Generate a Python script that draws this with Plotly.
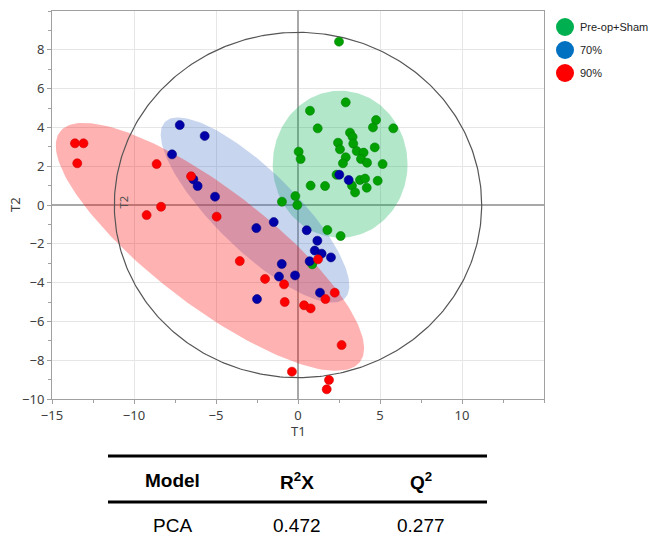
import numpy as np
import plotly.graph_objects as go

# ---------------- data ----------------
green_x = [2.5, 2.91, 0.73, 4.76, 4.57, 5.81, 1.2, 3.17, 3.33, 2.44, 3.37, 2.56, 4.68, 3.58, 4.0,
           0.04, 0.16, 2.91, 3.84, 2.74, 4.21, 5.16, 2.35, 3.78, 4.09, 4.86, 3.29, 4.19, 3.48,
           0.77, 1.65, -0.16, -0.98, -0.04, 1.79, 2.6, 0.87]
green_y = [8.42, 5.29, 4.86, 4.38, 4.0, 3.95, 3.95, 3.73, 3.51, 3.21, 3.16, 2.87, 2.97, 2.78, 2.7,
           2.75, 2.37, 2.46, 2.37, 2.15, 2.18, 2.11, 1.56, 1.29, 1.36, 1.25, 1.0, 0.89, 0.65,
           1.0, 0.98, 0.46, 0.17, 0.0, -1.29, -1.6, -3.06]

blue_x = [-7.21, -5.69, -7.68, -6.38, -6.12, -5.06, -2.54, -1.48, 0.53, 1.18, 1.02, 1.44, 2.01,
          0.71, -0.99, -1.16, -0.18, -2.5, 1.34, 2.52, 3.09]
blue_y = [4.12, 3.56, 2.61, 1.32, 0.98, 0.43, -1.19, -0.88, -1.3, -1.84, -2.35, -2.51, -2.7,
          -2.9, -3.04, -3.69, -3.63, -4.85, -4.52, 1.56, 1.29]

red_x = [-13.6, -13.08, -13.46, -8.62, -6.52, -8.35, -9.23, -4.96, -3.55, -2.01, -0.85, -0.81,
         0.37, 0.77, 1.22, 2.24, 1.67, 2.66, -0.37, 1.89, 1.75]
red_y = [3.18, 3.18, 2.15, 2.11, 1.48, -0.09, -0.52, -0.6, -2.89, -3.81, -4.09, -5.0,
         -5.17, -5.33, -2.8, -4.52, -4.85, -7.22, -8.59, -9.02, -9.5]

group_names = ["Pre-op+Sham", "70%", "90%"]

# confidence ellipses: center, half-axis vector u, half-axis vector v (data units)
green_ell = ((2.57, 2.1), (4.11, 0.0), (0.0, 3.79))
blue_ell = ((-2.62, -0.26), (5.49, -4.54), (1.71, 1.47))
red_ell = ((-5.37, -2.16), (9.15, -5.93), (2.15, 2.38))
t2_ell = ((0.0, 0.0), (11.2, 0.0), (0.0, 8.9))

x_ticks = [-15, -10, -5, 0, 5, 10]
y_ticks = [-10, -8, -6, -4, -2, 0, 2, 4, 6, 8]

table_header = ["Model", "R<sup>2</sup>X", "Q<sup>2</sup>"]
table_row = ["PCA", "0.472", "0.277"]


def ellipse(e, n=200):
    (cx, cy), (ux, uy), (vx, vy) = e
    t = np.linspace(0, 2 * np.pi, n)
    return cx + ux * np.cos(t) + vx * np.sin(t), cy + uy * np.cos(t) + vy * np.sin(t)


fig = go.Figure()

for ell, fc in [(green_ell, "rgba(0,176,80,0.30)"),
                (blue_ell, "rgba(70,115,200,0.30)"),
                (red_ell, "rgba(255,0,0,0.30)")]:
    ex, ey = ellipse(ell)
    fig.add_trace(go.Scatter(x=ex, y=ey, mode="lines", fill="toself", fillcolor=fc,
                             line=dict(width=0), hoverinfo="skip", showlegend=False))

cx_, cy_ = ellipse(t2_ell, 400)
fig.add_trace(go.Scatter(x=cx_, y=cy_, mode="lines", line=dict(color="#555555", width=1.2),
                         hoverinfo="skip", showlegend=False))

for xs, ys, col, lc, nm in [(green_x, green_y, "#00A000", "#008000", group_names[0]),
                            (blue_x, blue_y, "#0000A8", "#000080", group_names[1]),
                            (red_x, red_y, "#FF0000", "#D00000", group_names[2])]:
    fig.add_trace(go.Scatter(x=xs, y=ys, mode="markers", name=nm,
                             marker=dict(color=col, size=9, line=dict(color=lc, width=0.6)),
                             showlegend=False))

tick_font = dict(family="Noto Sans", size=13, color="#404040")
axis_common = dict(showline=True, linecolor="#A0A0A0", linewidth=1, mirror=True,
                   showgrid=True, gridcolor="#E6E6E6", gridwidth=1,
                   zeroline=True, zerolinecolor="#A8A8A8", zerolinewidth=1.5,
                   ticks="outside", ticklen=4, tickcolor="#A0A0A0",
                   tickfont=tick_font)

fig.update_xaxes(range=[-15, 15], tickvals=x_ticks,
                 minor=dict(dtick=2.5, tick0=0, ticks="outside", ticklen=3, tickcolor="#A0A0A0", showgrid=False),
                 **axis_common)
fig.update_yaxes(range=[-10, 10], tickvals=y_ticks,
                 minor=dict(dtick=1, tick0=0, ticks="outside", ticklen=3, tickcolor="#A0A0A0", showgrid=False),
                 **axis_common)

W, H = 652, 541
L, R, T, B = 52, 108, 11, 142
pw, ph = W - L - R, H - T - B


def px(x):
    return (x - L) / pw


def py(y):
    return (H - B - y) / ph


shapes = []
annotations = []

# axis titles
annotations.append(dict(x=px(298), y=py(431), xref="paper", yref="paper", text="T1",
                        showarrow=False, xanchor="center", yanchor="middle", font=tick_font))
annotations.append(dict(x=px(15), y=py(205), xref="paper", yref="paper", text="T2", textangle=-90,
                        showarrow=False, xanchor="center", yanchor="middle", font=tick_font))

# T2 label inside the circle
annotations.append(dict(x=-10.65, y=0.15, xref="x", yref="y", text="T2", textangle=-90,
                        showarrow=False, font=dict(family="Noto Sans", size=11, color="#505050")))

# manual legend
leg_cols = ["#00B050", "#0070C0", "#FF0000"]
leg_y = [27, 50, 73]
for nm, c, yy in zip(group_names, leg_cols, leg_y):
    shapes.append(dict(type="circle", xref="paper", yref="paper",
                       x0=px(556), x1=px(574), y0=py(yy + 9), y1=py(yy - 9),
                       fillcolor=c, line=dict(width=0)))
    annotations.append(dict(x=px(578), y=py(yy), xref="paper", yref="paper", text=nm,
                            xanchor="left", yanchor="middle", showarrow=False,
                            font=dict(family="Liberation Sans", size=11, color="#222222")))

# table
for yy in [456, 502]:
    shapes.append(dict(type="line", xref="paper", yref="paper", x0=px(108), x1=px(487),
                       y0=py(yy), y1=py(yy), line=dict(color="black", width=3)))
col_x = [172, 297, 421]
for t, xx in zip(table_header, col_x):
    annotations.append(dict(x=px(xx), y=py(481), xref="paper", yref="paper", text="<b>" + t + "</b>",
                            showarrow=False, xanchor="center", yanchor="middle",
                            font=dict(family="Liberation Sans", size=19, color="black")))
for t, xx in zip(table_row, col_x):
    annotations.append(dict(x=px(xx), y=py(525), xref="paper", yref="paper", text=t,
                            showarrow=False, xanchor="center", yanchor="middle",
                            font=dict(family="Liberation Sans", size=19, color="black")))

fig.update_layout(width=W, height=H, margin=dict(l=L, r=R, t=T, b=B),
                  plot_bgcolor="white", paper_bgcolor="white",
                  shapes=shapes, annotations=annotations, showlegend=False)

fig.write_html("out.html", config={"displayModeBar": False},
               post_script="document.body.style.margin='0';document.body.style.overflow='hidden';")
